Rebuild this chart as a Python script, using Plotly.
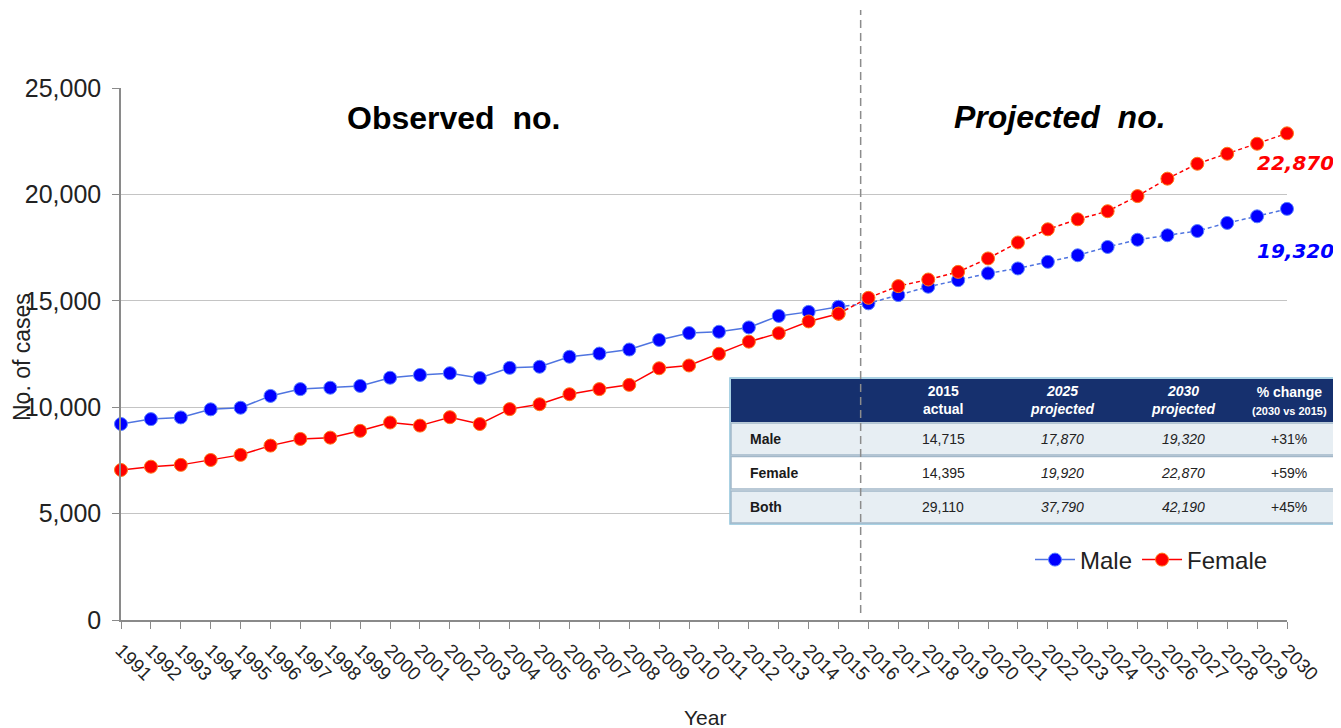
import plotly.graph_objects as go

# ---------------- data ----------------
years_obs = list(range(1991, 2016))
years_proj = list(range(2016, 2031))

male_obs = [9210, 9440, 9520, 9900, 9975, 10530, 10850, 10915, 11000, 11385,
            11515, 11600, 11375, 11850, 11900, 12370, 12520, 12710, 13160, 13485,
            13545, 13750, 14290, 14480, 14715]
female_obs = [7050, 7205, 7290, 7520, 7760, 8195, 8510, 8570, 8890, 9280,
              9135, 9530, 9210, 9910, 10140, 10610, 10850, 11050, 11830, 11960,
              12510, 13080, 13480, 14030, 14395]
male_proj = [14880, 15270, 15660, 15970, 16290, 16520, 16830, 17140, 17530, 17870,
             18080, 18280, 18660, 18970, 19320]
female_proj = [15140, 15690, 16000, 16360, 16990, 17740, 18360, 18830, 19210, 19920,
               20740, 21440, 21910, 22380, 22870]

y_ticks = [0, 5000, 10000, 15000, 20000, 25000]
y_tick_labels = ["0", "5,000", "10,000", "15,000", "20,000", "25,000"]

table_header = ["", "2015<br>actual", "<i>2025<br>projected</i>", "<i>2030<br>projected</i>",
                "% change<br><span style='font-size:11px'>(2030 vs 2015)</span>"]
table_rows = ["Male", "Female", "Both"]
table_2015 = ["14,715", "14,395", "29,110"]
table_2025 = ["17,870", "19,920", "37,790"]
table_2030 = ["19,320", "22,870", "42,190"]
table_pct = ["+31%", "+59%", "+45%"]

end_label_male = "19,320"
end_label_female = "22,870"

# ---------------- geometry helpers (screen pixels) ----------------
OFF = 8                      # page body margin
W, H = 1341 - OFF, 728 - OFF
SL, SR, ST, SB = 121, 1287, 88, 620   # plot area edges on screen
L, T = SL - OFF, ST - OFF
R, B = (OFF + W) - SR, (OFF + H) - SB


def px(x):
    return (x - SL) / (SR - SL)


def py(y):
    return (SB - y) / (SB - ST)


BLUE = "#0000FF"
RED = "#FF0000"
FONT = "Liberation Sans, Arial, sans-serif"
NARROW = "Liberation Sans Narrow, Arial Narrow, Liberation Sans, Arial, sans-serif"

fig = go.Figure()

fig.add_trace(go.Scatter(
    x=years_obs, y=male_obs, mode="lines+markers", name="Male",
    line=dict(color="#4F74E0", width=1.5),
    marker=dict(color=BLUE, size=13, line=dict(color="#5B82FF", width=1)),
    cliponaxis=False, legendgroup="m"))
fig.add_trace(go.Scatter(
    x=[years_obs[-1]] + years_proj, y=[male_obs[-1]] + male_proj, mode="lines+markers",
    name="Male projected", showlegend=False,
    line=dict(color="#4F74E0", width=1.5, dash="4px,3px"),
    marker=dict(color=BLUE, size=13, line=dict(color="#5B82FF", width=1)),
    cliponaxis=False, legendgroup="m"))
fig.add_trace(go.Scatter(
    x=years_obs, y=female_obs, mode="lines+markers", name="Female",
    line=dict(color=RED, width=1.5),
    marker=dict(color=RED, size=13, line=dict(color="#FF7A1A", width=1)),
    cliponaxis=False, legendgroup="f"))
fig.add_trace(go.Scatter(
    x=[years_obs[-1]] + years_proj, y=[female_obs[-1]] + female_proj, mode="lines+markers",
    name="Female projected", showlegend=False,
    line=dict(color=RED, width=1.5, dash="4px,3px"),
    marker=dict(color=RED, size=13, line=dict(color="#FF7A1A", width=1)),
    cliponaxis=False, legendgroup="f"))

shapes = []
tx0, tx1 = 730, 1335
shapes.append(dict(type="rect", xref="paper", yref="paper", layer="above",
                   x0=px(tx0), x1=px(tx1), y0=py(524), y1=py(378),
                   fillcolor="white", line=dict(color="#8FC3DC", width=1.5)))
shapes.append(dict(type="rect", xref="paper", yref="paper", layer="above",
                   x0=px(tx0 + 1), x1=px(tx1 - 1), y0=py(422), y1=py(379),
                   fillcolor="#16306E", line=dict(width=0)))
row_bounds = [(423, 455), (456.5, 489), (491, 523)]
row_fills = ["#E7EEF3", "#FFFFFF", "#E7EEF3"]
for (a, b), fc in zip(row_bounds, row_fills):
    shapes.append(dict(type="rect", xref="paper", yref="paper", layer="above",
                       x0=px(tx0 + 1), x1=px(tx1 - 1), y0=py(b), y1=py(a),
                       fillcolor=fc, line=dict(color="#A3B8C9", width=1.5)))

shapes.append(dict(type="line", xref="x", yref="paper", layer="above",
                   x0=2015.74, x1=2015.74, y0=py(613), y1=py(10),
                   line=dict(color="#8C8C8C", width=1.5, dash="8px,5px")))

annotations = []


def note(text, x, y, size, color="#222222", family=FONT, xanchor="center", **kw):
    annotations.append(dict(text=text, xref="paper", yref="paper", x=px(x), y=py(y),
                            xanchor=xanchor, yanchor="middle", showarrow=False,
                            font=dict(family=family, size=size, color=color), **kw))


note("<b>Observed  no.</b>", 453, 118, 32, color="black")
note("<b><i>Projected  no.</i></b>", 1060, 117, 32, color="black")
note("No. of cases", 22, 357, 23, textangle=-90)
note("Year", 705, 717, 21)

annotations.append(dict(text="<b><i>" + end_label_female + "</i></b>", xref="x", yref="y",
                        x=years_proj[-1], y=female_proj[-1], xshift=8, yshift=-30,
                        xanchor="center", yanchor="middle", showarrow=False,
                        font=dict(family="DejaVu Sans, Verdana, sans-serif", size=20, color=RED)))
annotations.append(dict(text="<b><i>" + end_label_male + "</i></b>", xref="x", yref="y",
                        x=years_proj[-1], y=male_proj[-1], xshift=8, yshift=-42,
                        xanchor="center", yanchor="middle", showarrow=False,
                        font=dict(family="DejaVu Sans, Verdana, sans-serif", size=20, color=BLUE)))

col_x = [None, 943, 1062, 1183, 1289]
for i in range(1, 5):
    note("<b>" + table_header[i] + "</b>", col_x[i], 400, 14, color="white",
         family=NARROW, align="center")
row_y = [439, 473, 507]
for r in range(3):
    note("<b>" + table_rows[r] + "</b>", 748, row_y[r], 14, color="#1A1A1A",
         family=NARROW, xanchor="left")
    vals = [table_2015[r], "<i>" + table_2025[r] + "</i>", "<i>" + table_2030[r] + "</i>", table_pct[r]]
    for c in range(4):
        note(vals[c], col_x[c + 1], row_y[r], 14, family=NARROW)

fig.update_layout(
    width=W, height=H,
    margin=dict(l=L, r=R, t=T, b=B),
    paper_bgcolor="white", plot_bgcolor="white",
    font=dict(family=FONT, color="#222222"),
    showlegend=True,
    legend=dict(orientation="h", x=px(1030), y=py(560), xanchor="left", yanchor="middle",
                font=dict(family=FONT, size=24, color="#222222"),
                bgcolor="rgba(0,0,0,0)", traceorder="normal", itemwidth=40),
    xaxis=dict(range=[1991, 2030], tick0=1991, dtick=1, tickangle=45,
               showgrid=False, zeroline=False, showline=True, linecolor="#8A8A8A", linewidth=1.5,
               ticks="outside", ticklen=7, tickcolor="#8A8A8A", ticklabelstandoff=3,
               tickfont=dict(family=FONT, size=19, color="#222222")),
    yaxis=dict(range=[0, 25000], tickvals=y_ticks, ticktext=y_tick_labels,
               showgrid=True, gridcolor="#C4C4C4", gridwidth=1, zeroline=False,
               showline=True, linecolor="#8A8A8A", linewidth=1.5,
               ticks="outside", ticklen=7, tickcolor="#8A8A8A", ticklabelstandoff=6,
               tickfont=dict(family=FONT, size=25, color="#222222")),
    shapes=shapes,
    annotations=annotations,
)

fig.write_html("out.html")
